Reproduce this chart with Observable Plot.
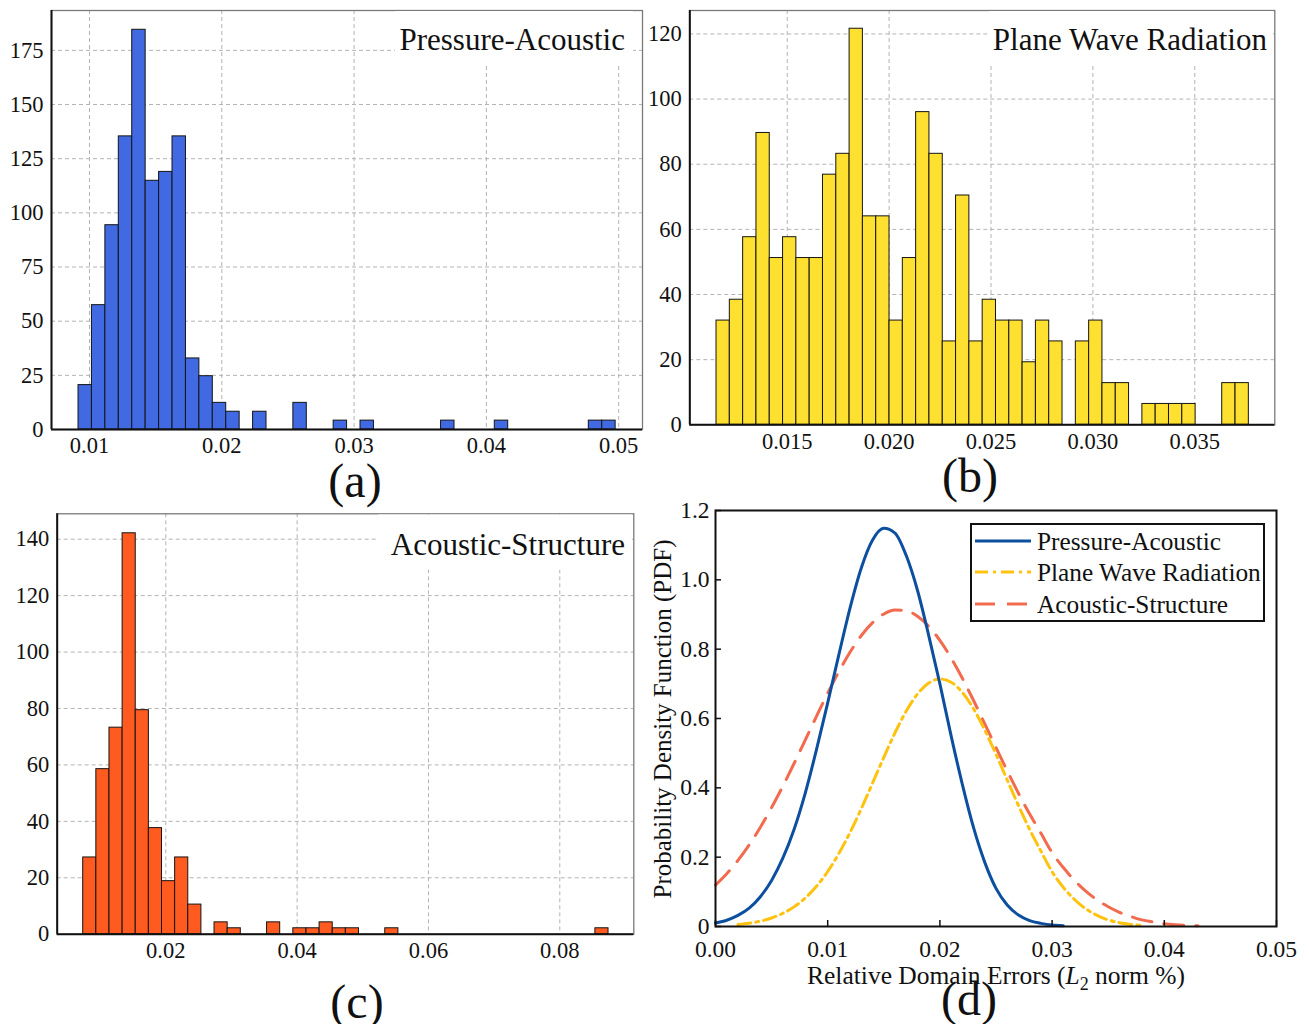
<!DOCTYPE html>
<html>
<head>
<meta charset="utf-8">
<script src="https://cdn.jsdelivr.net/npm/d3@7"></script>
<script src="https://cdn.jsdelivr.net/npm/@observablehq/plot@0.6"></script>
<style>
  body { margin: 0; background: #fff; }
  #fig { position: relative; width: 1309px; height: 1024px; overflow: hidden; background: #fff; }
  .panel { position: absolute; }
  #overlay { position: absolute; left: 0; top: 0; pointer-events: none; }
</style>
</head>
<body>
<div id="fig"></div>
<script>
// ---------------- DATA ----------------
// (a) Pressure-Acoustic histogram: 40 equal bins
const paBinStart = 0.00917;
const paBinWidth = 0.001015;
const paCounts = [20.5, 57.4, 94.3, 135.3, 184.5, 114.8, 118.9, 135.3, 32.8, 24.6,
                  12.3, 8.2, 0, 8.2, 0, 0, 12.3, 0, 0, 4.1,
                  0, 4.1, 0, 0, 0, 0, 0, 4.1, 0, 0,
                  0, 4.1, 0, 0, 0, 0, 0, 0, 4.1, 4.1];
const paXTicks = [0.01, 0.02, 0.03, 0.04, 0.05];
const paYTicks = [0, 25, 50, 75, 100, 125, 150, 175];

// (b) Plane Wave Radiation histogram
const pwBinStart = 0.011531;
const pwBinWidth = 0.000653;
const pwCounts = [32, 38.4, 57.6, 89.6, 51.2, 57.6, 51.2, 51.2, 76.8, 83.2,
                  121.6, 64, 64, 32, 51.2, 96, 83.2, 25.6, 70.4, 25.6,
                  38.4, 32, 32, 19.2, 32, 25.6, 0, 25.6, 32, 12.8,
                  12.8, 0, 6.4, 6.4, 6.4, 6.4, 0, 0, 12.8, 12.8];
const pwXTicks = [0.015, 0.020, 0.025, 0.030, 0.035];
const pwYTicks = [0, 20, 40, 60, 80, 100, 120];

// (c) Acoustic-Structure histogram
const asBinStart = 0.00742;
const asBinWidth = 0.002;
const asCounts = [27.2, 58.5, 73.2, 142.1, 79.4, 37.6, 18.8, 27.2, 10.5, 0,
                  4.2, 2.1, 0, 0, 4.2, 0, 2.1, 2.1, 4.2, 2.1,
                  2.1, 0, 0, 2.1, 0, 0, 0, 0, 0, 0,
                  0, 0, 0, 0, 0, 0, 0, 0, 0, 2.1];
const asXTicks = [0.02, 0.04, 0.06, 0.08];
const asYTicks = [0, 20, 40, 60, 80, 100, 120, 140];

// (d) probability density curves (sampled every 0.001)
const pdfStep = 0.001;
const paPdfStart = 0.000;
const paPdf = [0.010, 0.018, 0.032, 0.053, 0.086, 0.133, 0.197, 0.280, 0.385, 0.510,
               0.645, 0.785, 0.920, 1.035, 1.115, 1.149, 1.135, 1.070, 0.970, 0.840,
               0.700, 0.550, 0.410, 0.285, 0.185, 0.110, 0.062, 0.033, 0.017, 0.009,
               0.004, 0.002];
const pwPdfStart = 0.002;
const pwPdf = [0.0056, 0.0094, 0.0155, 0.0245, 0.0378, 0.0566, 0.0822, 0.1159, 0.1587, 0.2108,
               0.2719, 0.3404, 0.4137, 0.488, 0.5589, 0.6213, 0.6704, 0.7021, 0.714, 0.7047,
               0.6752, 0.6279, 0.5669, 0.4968, 0.4226, 0.349, 0.2797, 0.2177, 0.158, 0.113,
               0.078, 0.051, 0.032, 0.019, 0.011, 0.006, 0.003];
const asPdfStart = 0.000;
const asPdf = [0.1195, 0.1521, 0.1907, 0.2355, 0.2864, 0.343, 0.4046, 0.4702, 0.538, 0.6063,
               0.6729, 0.7355, 0.7918, 0.8395, 0.8766, 0.9016, 0.9132, 0.911, 0.895, 0.866,
               0.8253, 0.7746, 0.716, 0.6519, 0.5844, 0.5161, 0.449, 0.3844, 0.3243, 0.2694,
               0.213, 0.17, 0.133, 0.102, 0.077, 0.057, 0.041, 0.029, 0.019, 0.013,
               0.008, 0.005, 0.003, 0.002];
const pdfXTicks = [0, 0.01, 0.02, 0.03, 0.04, 0.05];
const pdfYTicks = [0, 0.2, 0.4, 0.6, 0.8, 1.0, 1.2];

const seriesNames = ["Pressure-Acoustic", "Plane Wave Radiation", "Acoustic-Structure"];
const panelLetters = ["(a)", "(b)", "(c)", "(d)"];

// ---------------- STYLE ----------------
const FONT = '"Liberation Serif", "Times New Roman", serif';
const colors = {
  histA: "#4169e1", histB: "#fde030", histC: "#ff5a1f",
  pdfA: "#0d4f9f", pdfB: "#ffc20e", pdfC: "#f26b4f"
};
const dashB = "13,5,3,5";
const dashC = "20,12";

// ---------------- BUILD ----------------
const fig = document.getElementById("fig");

function histTable(start, width, counts) {
  return counts.map((c, i) => ({x1: start + i * width, x2: start + (i + 1) * width, count: c}))
               .filter(d => d.count > 0);
}

function place(svg, left, top) {
  const wrap = document.createElement("div");
  wrap.className = "panel";
  wrap.style.left = left + "px";
  wrap.style.top = top + "px";
  wrap.appendChild(svg);
  fig.appendChild(wrap);
}

function histPlot({counts, start, binWidth, fill, xDomain, yDomain, xTicks, yTicks, xFormat, width, height, margins}) {
  const table = histTable(start, binWidth, counts);
  return Plot.plot({
    width, height, ...margins,
    style: {fontFamily: FONT, fontSize: "22px", background: "transparent", color: "#111", overflow: "visible"},
    x: {domain: xDomain},
    y: {domain: yDomain},
    marks: [
      Plot.gridX(xTicks, {stroke: "#b3b3b3", strokeOpacity: 1, strokeDasharray: "4,3", strokeWidth: 1}),
      Plot.gridY(yTicks, {stroke: "#b3b3b3", strokeOpacity: 1, strokeDasharray: "4,3", strokeWidth: 1}),
      Plot.frame({stroke: "#7a7a7a", strokeWidth: 1.3}),
      Plot.rectY(table, {x1: "x1", x2: "x2", y: "count", fill, stroke: "#151515", strokeWidth: 1}),
      Plot.ruleX([xDomain[0]], {stroke: "#111", strokeWidth: 2}),
      Plot.ruleY([0], {stroke: "#111", strokeWidth: 2}),
      Plot.axisX(xTicks, {tickSize: 0, tickPadding: 8, tickFormat: xFormat, label: null, fontSize: 22.5}),
      Plot.axisY(yTicks, {tickSize: 0, tickPadding: 8, label: null, fontSize: 22.5})
    ]
  });
}

// (a)
place(histPlot({
  counts: paCounts, start: paBinStart, binWidth: paBinWidth, fill: colors.histA,
  xDomain: [0.007128, 0.0518], yDomain: [0, 193.4],
  xTicks: paXTicks, yTicks: paYTicks, xFormat: d3.format(".2f"),
  width: 650, height: 460,
  margins: {marginLeft: 51, marginRight: 8, marginTop: 10, marginBottom: 31}
}), 0, 0);

// (b)
place(histPlot({
  counts: pwCounts, start: pwBinStart, binWidth: pwBinWidth, fill: colors.histB,
  xDomain: [0.01022, 0.038925], yDomain: [0, 127.2],
  xTicks: pwXTicks, yTicks: pwYTicks, xFormat: d3.format(".3f"),
  width: 659, height: 460,
  margins: {marginLeft: 39.3, marginRight: 34.7, marginTop: 10, marginBottom: 35.7}
}), 650, 0);

// (c)
place(histPlot({
  counts: asCounts, start: asBinStart, binWidth: asBinWidth, fill: colors.histC,
  xDomain: [0.00346, 0.09127], yDomain: [0, 149.0],
  xTicks: asXTicks, yTicks: asYTicks, xFormat: d3.format(".2f"),
  width: 650, height: 534,
  margins: {marginLeft: 56.7, marginRight: 16.7, marginTop: 23.3, marginBottom: 90.3}
}), 0, 490);

// (d)
const curve = (start, vals, name) => vals.map((v, i) => ({x: start + i * pdfStep, y: v, name}));
const paLine = curve(paPdfStart, paPdf, seriesNames[0]);
const pwLine = curve(pwPdfStart, pwPdf, seriesNames[1]);
const asLine = curve(asPdfStart, asPdf, seriesNames[2]);

place(Plot.plot({
  width: 659, height: 534,
  marginLeft: 65, marginRight: 33, marginTop: 20, marginBottom: 98,
  style: {fontFamily: FONT, fontSize: "23px", background: "transparent", color: "#111", overflow: "visible"},
  x: {domain: [0, 0.05]},
  y: {domain: [0, 1.2]},
  marks: [
    Plot.line(asLine, {x: "x", y: "y", stroke: colors.pdfC, strokeWidth: 3, strokeDasharray: dashC, curve: "monotone-x"}),
    Plot.line(pwLine, {x: "x", y: "y", stroke: colors.pdfB, strokeWidth: 3, strokeDasharray: dashB, curve: "monotone-x"}),
    Plot.line(paLine, {x: "x", y: "y", stroke: colors.pdfA, strokeWidth: 3, curve: "monotone-x"}),
    Plot.frame({stroke: "#111", strokeWidth: 2}),
    Plot.axisX(pdfXTicks, {tickSize: -6, tickPadding: 20, strokeWidth: 1.5, tickFormat: d3.format(".2f"), label: null, fontSize: 23.5}),
    Plot.axisY(pdfYTicks, {tickSize: -6, tickPadding: 12, strokeWidth: 1.5, tickFormat: d => d === 0 ? "0" : d.toFixed(1), label: null, fontSize: 23.5})
  ]
}), 650, 490);

// ---------------- ANNOTATIONS (titles, legend, labels) ----------------
const ov = d3.select(fig).append("svg")
  .attr("id", "overlay").attr("width", 1309).attr("height", 1024)
  .style("font-family", FONT).attr("fill", "#111");

// panel titles with white boxes hiding the grid
const titles = [
  {text: seriesNames[0], box: [395, 11, 238, 52], x: 625, y: 50},
  {text: seriesNames[1], box: [989, 11, 284, 52], x: 1267, y: 49.5},
  {text: seriesNames[2], box: [378, 514.5, 254, 55], x: 625, y: 554.5}
];
for (const t of titles) {
  ov.append("rect").attr("x", t.box[0]).attr("y", t.box[1]).attr("width", t.box[2]).attr("height", t.box[3]).attr("fill", "#fff");
  ov.append("text").attr("x", t.x).attr("y", t.y).attr("text-anchor", "end")
    .attr("font-size", 31).text(t.text);
}

// panel letters
const letterPos = [[355, 497], [970, 492], [357, 1018], [969, 1015]];
panelLetters.forEach((L, i) => {
  ov.append("text").attr("x", letterPos[i][0]).attr("y", letterPos[i][1])
    .attr("text-anchor", "middle").attr("font-size", 48).text(L);
});

// legend of (d)
ov.append("rect").attr("x", 971).attr("y", 524).attr("width", 293).attr("height", 97)
  .attr("fill", "#fff").attr("stroke", "#111").attr("stroke-width", 2);
const legendRows = [
  {name: seriesNames[0], color: colors.pdfA, dash: null, y: 541},
  {name: seriesNames[1], color: colors.pdfB, dash: dashB, y: 572},
  {name: seriesNames[2], color: colors.pdfC, dash: dashC, y: 604}
];
for (const r of legendRows) {
  const ln = ov.append("line").attr("x1", 975).attr("x2", 1031).attr("y1", r.y).attr("y2", r.y)
    .attr("stroke", r.color).attr("stroke-width", 3);
  if (r.dash) ln.attr("stroke-dasharray", r.dash);
  ov.append("text").attr("x", 1037).attr("y", r.y + 9).attr("font-size", 25.3).text(r.name);
}

// axis labels of (d)
const xl = ov.append("text").attr("x", 996).attr("y", 984).attr("text-anchor", "middle").attr("font-size", 25.5);
xl.append("tspan").text("Relative Domain Errors (");
xl.append("tspan").attr("font-style", "italic").text("L");
xl.append("tspan").attr("font-size", 18).attr("dy", 6).text("2");
xl.append("tspan").attr("dy", -6).text(" norm %)");

ov.append("text").attr("transform", "translate(671,719) rotate(-90)")
  .attr("text-anchor", "middle").attr("font-size", 25).text("Probability Density Function (PDF)");
</script>
</body>
</html>
